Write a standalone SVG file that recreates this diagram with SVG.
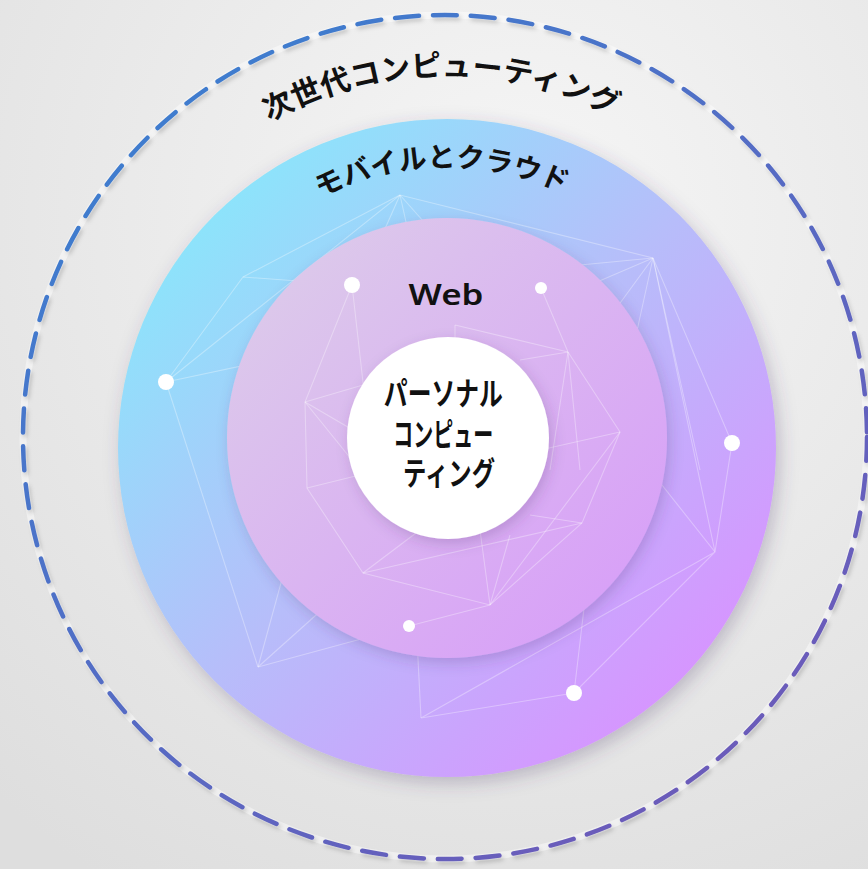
<svg xmlns="http://www.w3.org/2000/svg" width="868" height="869" viewBox="0 0 868 869">
  <defs>
    <radialGradient id="bg" cx="0.6" cy="0.25" r="0.9">
      <stop offset="0" stop-color="#f6f6f6"/>
      <stop offset="1" stop-color="#dedede"/>
    </radialGradient>
    <linearGradient id="ringGrad" x1="0.12" y1="0.12" x2="0.88" y2="0.88">
      <stop offset="0" stop-color="#8ae6fb"/>
      <stop offset="0.5" stop-color="#b7bdfa"/>
      <stop offset="1" stop-color="#d893ff"/>
    </linearGradient>
    <linearGradient id="webGrad" x1="0.1" y1="0.1" x2="0.9" y2="0.9">
      <stop offset="0" stop-color="#dccaea"/>
      <stop offset="1" stop-color="#d89ff8"/>
    </linearGradient>
    <linearGradient id="dashGrad" gradientUnits="userSpaceOnUse" x1="120" y1="60" x2="760" y2="820">
      <stop offset="0" stop-color="#3b7fd0"/>
      <stop offset="1" stop-color="#6f58b8"/>
    </linearGradient>
    <filter id="shadow" x="-20%" y="-20%" width="140%" height="140%">
      <feDropShadow dx="4" dy="6" stdDeviation="9" flood-color="#4a3a6a" flood-opacity="0.28"/>
    </filter>
    <filter id="shadowSoft" x="-20%" y="-20%" width="140%" height="140%">
      <feDropShadow dx="3" dy="5" stdDeviation="7" flood-color="#4a3a6a" flood-opacity="0.22"/>
    </filter>
    <filter id="dashShadow" x="-10%" y="-10%" width="120%" height="120%">
      <feDropShadow dx="2" dy="3" stdDeviation="2" flood-color="#000" flood-opacity="0.18"/>
    </filter>
    <path id="arcOuter" d="M 80 443 A 367 367 0 0 1 814 443"/>
    <path id="arcMid" d="M 171 443 A 276 276 0 0 1 723 443"/>
  </defs>
  <style>
    .net { stroke: #ffffff; stroke-width: 1.1; stroke-opacity: 0.32; fill: none; }
    .dot { fill: #ffffff; }
    .jp { font-family: "Noto Sans CJK JP", "Noto Sans", sans-serif; fill: #111111; }
    .lbl { font-family: "Noto Sans", "Open Sans", sans-serif; fill: #111111; }
  </style>

  <rect width="868" height="869" fill="url(#bg)"/>

  <g id="outer-ring">
    <circle cx="445" cy="437" r="422" fill="none" stroke="#ffffff" stroke-opacity="0.45" stroke-width="7"/>
    <circle cx="445" cy="437" r="422" fill="none" stroke="url(#dashGrad)" stroke-width="4.5" stroke-dasharray="24 14" stroke-linecap="round" filter="url(#dashShadow)"/>
    <text class="jp" font-size="30" font-weight="700" text-anchor="middle"><textPath href="#arcOuter" startOffset="570">次世代コンピューティング</textPath></text>
  </g>

  <g id="mobile-cloud">
    <circle cx="447" cy="448" r="329" fill="url(#ringGrad)" filter="url(#shadow)"/>
    <g id="outer-network">
      <polyline class="net" points="166,382 243,277 352,285"/>
      <polyline class="net" points="166,382 400,195 653,258 732,443 715,552 574,693 421,718 715,552 653,258"/>
      <line class="net" x1="166" y1="382" x2="258" y2="667"/>
      <line class="net" x1="166" y1="382" x2="340" y2="345"/>
      <line class="net" x1="243" y1="277" x2="400" y2="195"/>
      <line class="net" x1="400" y1="195" x2="380" y2="240"/>
      <line class="net" x1="400" y1="195" x2="410" y2="240"/>
      <line class="net" x1="400" y1="195" x2="440" y2="240"/>
      <line class="net" x1="653" y1="258" x2="580" y2="265"/>
      <line class="net" x1="653" y1="258" x2="590" y2="285"/>
      <line class="net" x1="653" y1="258" x2="615" y2="310"/>
      <line class="net" x1="653" y1="258" x2="635" y2="340"/>
      <line class="net" x1="653" y1="258" x2="700" y2="470"/>
      <line class="net" x1="715" y1="552" x2="620" y2="432"/>
      <line class="net" x1="574" y1="693" x2="585" y2="600"/>
      <line class="net" x1="421" y1="718" x2="416" y2="620"/>
      <line class="net" x1="258" y1="667" x2="307" y2="488"/>
      <line class="net" x1="258" y1="667" x2="363" y2="573"/>
      <line class="net" x1="258" y1="667" x2="409" y2="626"/>
    </g>
  </g>

  <g id="web">
    <circle cx="447" cy="438" r="220" fill="url(#webGrad)" filter="url(#shadowSoft)"/>
    <g id="inner-network">
      <polyline class="net" points="352,285 305,402 307,488 363,573 490,605 582,523 620,432 568,352 541,288"/>
      <line class="net" x1="352" y1="285" x2="365" y2="400"/>
      <line class="net" x1="305" y1="402" x2="380" y2="380"/>
      <line class="net" x1="305" y1="402" x2="370" y2="440"/>
      <line class="net" x1="305" y1="402" x2="360" y2="470"/>
      <line class="net" x1="307" y1="488" x2="380" y2="470"/>
      <line class="net" x1="455" y1="325" x2="568" y2="352"/>
      <line class="net" x1="455" y1="325" x2="455" y2="345"/>
      <line class="net" x1="568" y1="352" x2="520" y2="360"/>
      <line class="net" x1="568" y1="352" x2="550" y2="470"/>
      <line class="net" x1="568" y1="352" x2="580" y2="470"/>
      <line class="net" x1="620" y1="432" x2="540" y2="450"/>
      <line class="net" x1="620" y1="432" x2="490" y2="605"/>
      <line class="net" x1="363" y1="573" x2="582" y2="523"/>
      <line class="net" x1="490" y1="605" x2="480" y2="530"/>
      <line class="net" x1="490" y1="605" x2="510" y2="535"/>
      <line class="net" x1="490" y1="605" x2="409" y2="626"/>
      <line class="net" x1="582" y1="523" x2="530" y2="515"/>
      <line class="net" x1="363" y1="573" x2="420" y2="530"/>
    </g>
    <text class="lbl" x="446" y="305" font-size="28" font-weight="600" text-anchor="middle" textLength="75" lengthAdjust="spacingAndGlyphs">Web</text>
  </g>

  <g id="dots">
    <circle class="dot" cx="352" cy="285" r="8"/>
    <circle class="dot" cx="541" cy="288" r="6"/>
    <circle class="dot" cx="166" cy="382" r="8"/>
    <circle class="dot" cx="732" cy="443" r="8"/>
    <circle class="dot" cx="409" cy="626" r="6"/>
    <circle class="dot" cx="574" cy="693" r="8"/>
  </g>

  <g id="mobile-label">
    <text class="jp" font-size="28" font-weight="700" text-anchor="middle"><textPath href="#arcMid" startOffset="428">モバイルとクラウド</textPath></text>
  </g>

  <g id="personal-computing">
    <circle cx="448" cy="438" r="101" fill="#ffffff" filter="url(#shadowSoft)"/>
    <text class="jp" font-size="32" font-weight="700" text-anchor="middle">
      <tspan x="447" y="405" textLength="119" lengthAdjust="spacingAndGlyphs">パーソナル</tspan>
      <tspan x="447" y="446" textLength="100" lengthAdjust="spacingAndGlyphs">コンピュー</tspan>
      <tspan x="449" y="485" textLength="92" lengthAdjust="spacingAndGlyphs">ティング</tspan>
    </text>
  </g>
</svg>
